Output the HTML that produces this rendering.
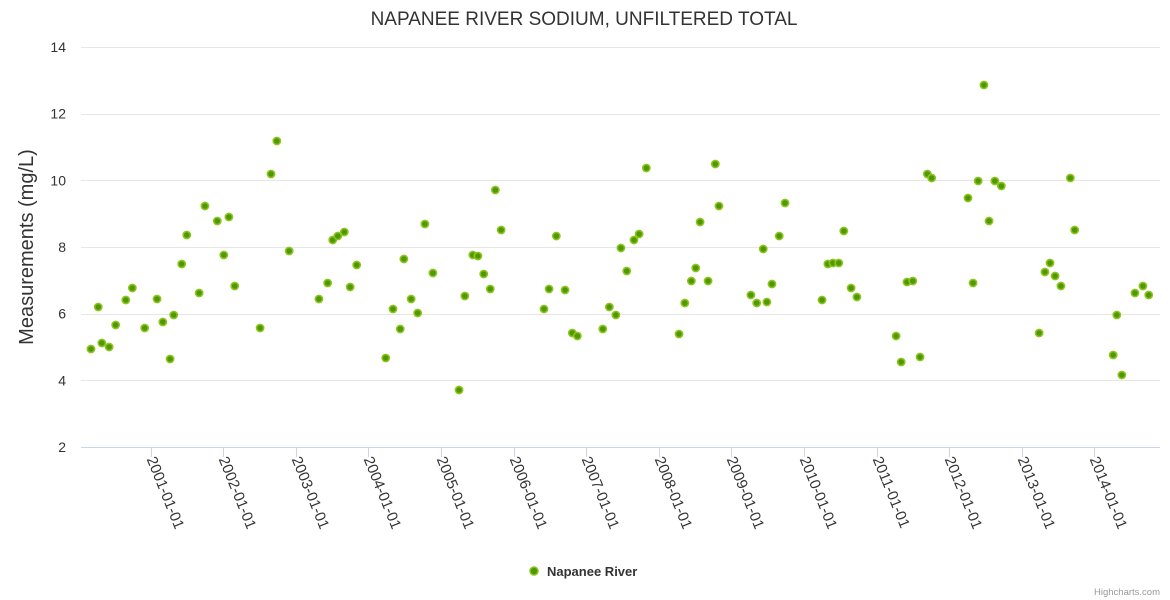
<!DOCTYPE html>
<html><head><meta charset="utf-8"><style>
body{margin:0;background:#fff;}
svg{display:block;font-family:"Liberation Sans","DejaVu Sans",sans-serif;}
</style></head><body>
<svg id="chart" width="1170" height="600">
<text x="584" y="25" text-anchor="middle" font-size="19" fill="#333">NAPANEE RIVER SODIUM, UNFILTERED TOTAL</text>
<text transform="translate(33,247) rotate(-90)" text-anchor="middle" font-size="20" fill="#333">Measurements (mg/L)</text>
<g id="grid"></g><g id="xaxis"></g><g id="points"></g>
<g>
<circle cx="534" cy="571" r="4" fill="#4d9900" stroke="#8fc31f" stroke-width="1.5"/>
<text x="547" y="576" font-size="13" font-weight="bold" fill="#333">Napanee River</text>
</g>
<text x="1160" y="595" text-anchor="end" font-size="9.5" fill="#999">Highcharts.com</text>
</svg>
<script>
const yTicks=[2,4,6,8,10,12,14];
const xTickYears=[2001,2002,2003,2004,2005,2006,2007,2008,2009,2010,2011,2012,2013,2014];
const dates=[2000.18,2000.28,2000.33,2000.43,2000.52,2000.66,2000.75,2000.92,2001.09,2001.17,2001.27,2001.32,2001.43,2001.50,2001.67,2001.75,2001.92,2002.01,2002.08,2002.16,2002.51,2002.66,2002.74,2002.91,2003.32,2003.44,2003.51,2003.58,2003.67,2003.75,2003.84,2004.24,2004.34,2004.44,2004.49,2004.59,2004.68,2004.78,2004.89,2005.25,2005.33,2005.44,2005.51,2005.59,2005.68,2005.75,2005.83,2006.42,2006.49,2006.59,2006.71,2006.81,2006.88,2007.23,2007.32,2007.41,2007.48,2007.56,2007.66,2007.73,2007.83,2008.28,2008.36,2008.45,2008.51,2008.57,2008.68,2008.78,2008.83,2009.27,2009.35,2009.44,2009.49,2009.56,2009.66,2009.74,2010.25,2010.33,2010.40,2010.48,2010.55,2010.65,2010.73,2011.27,2011.34,2011.42,2011.50,2011.60,2011.70,2011.76,2012.26,2012.33,2012.40,2012.48,2012.55,2012.63,2012.72,2013.24,2013.32,2013.39,2013.46,2013.54,2013.67,2013.73,2014.26,2014.31,2014.38,2014.56,2014.67,2014.75];
const values=[4.94,6.20,5.12,5.00,5.66,6.41,6.77,5.57,6.44,5.75,4.64,5.96,7.49,8.36,6.62,9.23,8.78,7.76,8.90,6.83,5.57,10.19,11.18,7.88,6.44,6.92,8.21,8.33,8.45,6.80,7.46,4.67,6.14,5.54,7.64,6.44,6.02,8.69,7.22,3.71,6.53,7.76,7.73,7.19,6.74,9.71,8.51,6.14,6.74,8.33,6.71,5.42,5.33,5.54,6.20,5.96,7.97,7.28,8.21,8.39,10.37,5.39,6.32,6.98,7.37,8.75,6.98,10.49,9.23,6.56,6.32,7.94,6.35,6.89,8.33,9.32,6.41,7.49,7.52,7.52,8.48,6.77,6.50,5.33,4.55,6.95,6.98,4.70,10.19,10.07,9.47,6.92,9.98,12.86,8.78,9.98,9.83,5.42,7.25,7.52,7.13,6.83,10.07,8.51,4.76,5.96,4.16,6.62,6.83,6.56];
const NS='http://www.w3.org/2000/svg';
const L=81,R=1160,T=47,B=447;
function yS(v){return B-(v-2)/12*(B-T);}
function xS(d){return 150.5+(d-2001)*72.6;}
const grid=document.getElementById('grid');
yTicks.forEach(v=>{
 const y=Math.round(yS(v))+0.5;
 const ln=document.createElementNS(NS,'line');
 ln.setAttribute('x1',L);ln.setAttribute('x2',R);ln.setAttribute('y1',y);ln.setAttribute('y2',y);
 ln.setAttribute('stroke',v===2?'#ccd6eb':'#e6e6e6');
 
 
 grid.appendChild(ln);
 const t=document.createElementNS(NS,'text');
 t.setAttribute('x',66);t.setAttribute('y',yS(v)+5);t.setAttribute('text-anchor','end');
 t.setAttribute('font-size','14');t.setAttribute('fill','#333');t.textContent=v;
 
 
 grid.appendChild(t);
});
const xa=document.getElementById('xaxis');
xTickYears.forEach(yr=>{
 const x=Math.round(xS(yr))+0.5;
 const tk=document.createElementNS(NS,'line');
 tk.setAttribute('x1',x);tk.setAttribute('x2',x);tk.setAttribute('y1',B);tk.setAttribute('y2',B+10);
 tk.setAttribute('stroke','#ccd6eb');
 
 
 xa.appendChild(tk);
 const t=document.createElementNS(NS,'text');
 t.setAttribute('transform','translate('+(x-5)+','+(B+12)+') rotate(68)');
 t.setAttribute('font-size','15');t.setAttribute('fill','#333');
 t.textContent=yr+'-01-01';
 
 
 xa.appendChild(t);
});
const pg=document.getElementById('points');
dates.forEach((d,i)=>{
 const c=document.createElementNS(NS,'circle');
 c.setAttribute('cx',xS(d));c.setAttribute('cy',yS(values[i]));c.setAttribute('r',3.6);
 c.setAttribute('fill','#4d9900');c.setAttribute('stroke','#8fc31f');c.setAttribute('stroke-width','1.6');
 
 
 pg.appendChild(c);
});
</script>
</body></html>
